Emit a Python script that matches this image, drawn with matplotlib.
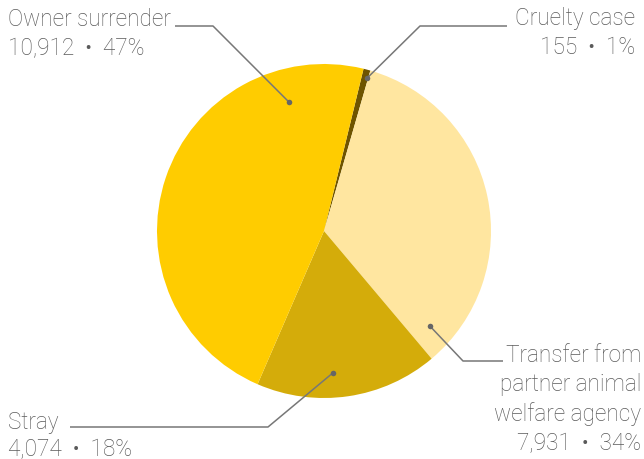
import numpy as np
import matplotlib
matplotlib.use("Agg")
import matplotlib.pyplot as plt

categories = ["Cruelty case", "Transfer from\npartner animal\nwelfare agency", "Stray", "Owner surrender"]
values = [155, 7931, 4074, 10912]
percent_labels = ["1%", "34%", "18%", "47%"]
colors = ["#6e5400", "#ffe6a0", "#d4ac0a", "#ffcc00"]

W, H = 644, 460
fig = plt.figure(figsize=(W / 100, H / 100), dpi=100)
ax = fig.add_axes([0, 0, 1, 1])

cx, cy, R = 324, 460 - 232, 167
start = 76.3
wedges, _ = ax.pie(values, colors=colors, startangle=start, counterclock=False,
                   center=(cx, cy), radius=R, frame=True,
                   wedgeprops=dict(linewidth=0))
ax.set_xlim(0, W)
ax.set_ylim(0, H)
ax.set_aspect("equal")
ax.axis("off")

# label layout: anchor dot (angle clockwise from top, radius fraction),
# elbow point, end of horizontal segment, text anchor x, alignment, first baseline y
layout = {
    "Owner surrender": dict(ang=344.8, rf=0.80, elbow=(213, 27), end=(175, 27),
                            tx=8, ha="left", ty=26, lh=29),
    "Cruelty case": dict(ang=15.7, rf=0.95, elbow=(420, 27), end=(507, 27),
                         tx=635, ha="right", ty=25, lh=29.5),
    "Transfer from\npartner animal\nwelfare agency": dict(ang=131.9, rf=0.85, elbow=(463, 362),
                                                           end=(503, 362), tx=641, ha="right",
                                                           ty=362, lh=29.5),
    "Stray": dict(ang=176.3, rf=0.85, elbow=(268, 428), end=(70, 428),
                  tx=8, ha="left", ty=429, lh=27.5),
}

txt_color = "#5a5a5a"
line_color = "#777777"
fs = 16.3
for cat, v, p in zip(categories, values, percent_labels):
    L = layout[cat]
    a = np.deg2rad(90 - L["ang"])
    dx, dy = cx + L["rf"] * R * np.cos(a), cy + L["rf"] * R * np.sin(a)
    ex, ey = L["elbow"][0], H - L["elbow"][1]
    hx, hy = L["end"][0], H - L["end"][1]
    ax.plot([dx, ex, hx], [dy, ey, hy], color=line_color, lw=1.1, zorder=5,
            solid_capstyle="butt")
    ax.plot([dx], [dy], "o", color="#666666", ms=4, mew=0, zorder=6)
    lines = cat.split("\n") + [f"{v:,}  \u2022  {p}"]
    for i, ln in enumerate(lines):
        ax.text(L["tx"], H - (L["ty"] + i * L["lh"]), ln, ha=L["ha"], va="baseline",
                fontsize=fs, color=txt_color, family=["Roboto", "DejaVu Sans"],
                fontweight="light")

fig.savefig("out.png", dpi=100)
